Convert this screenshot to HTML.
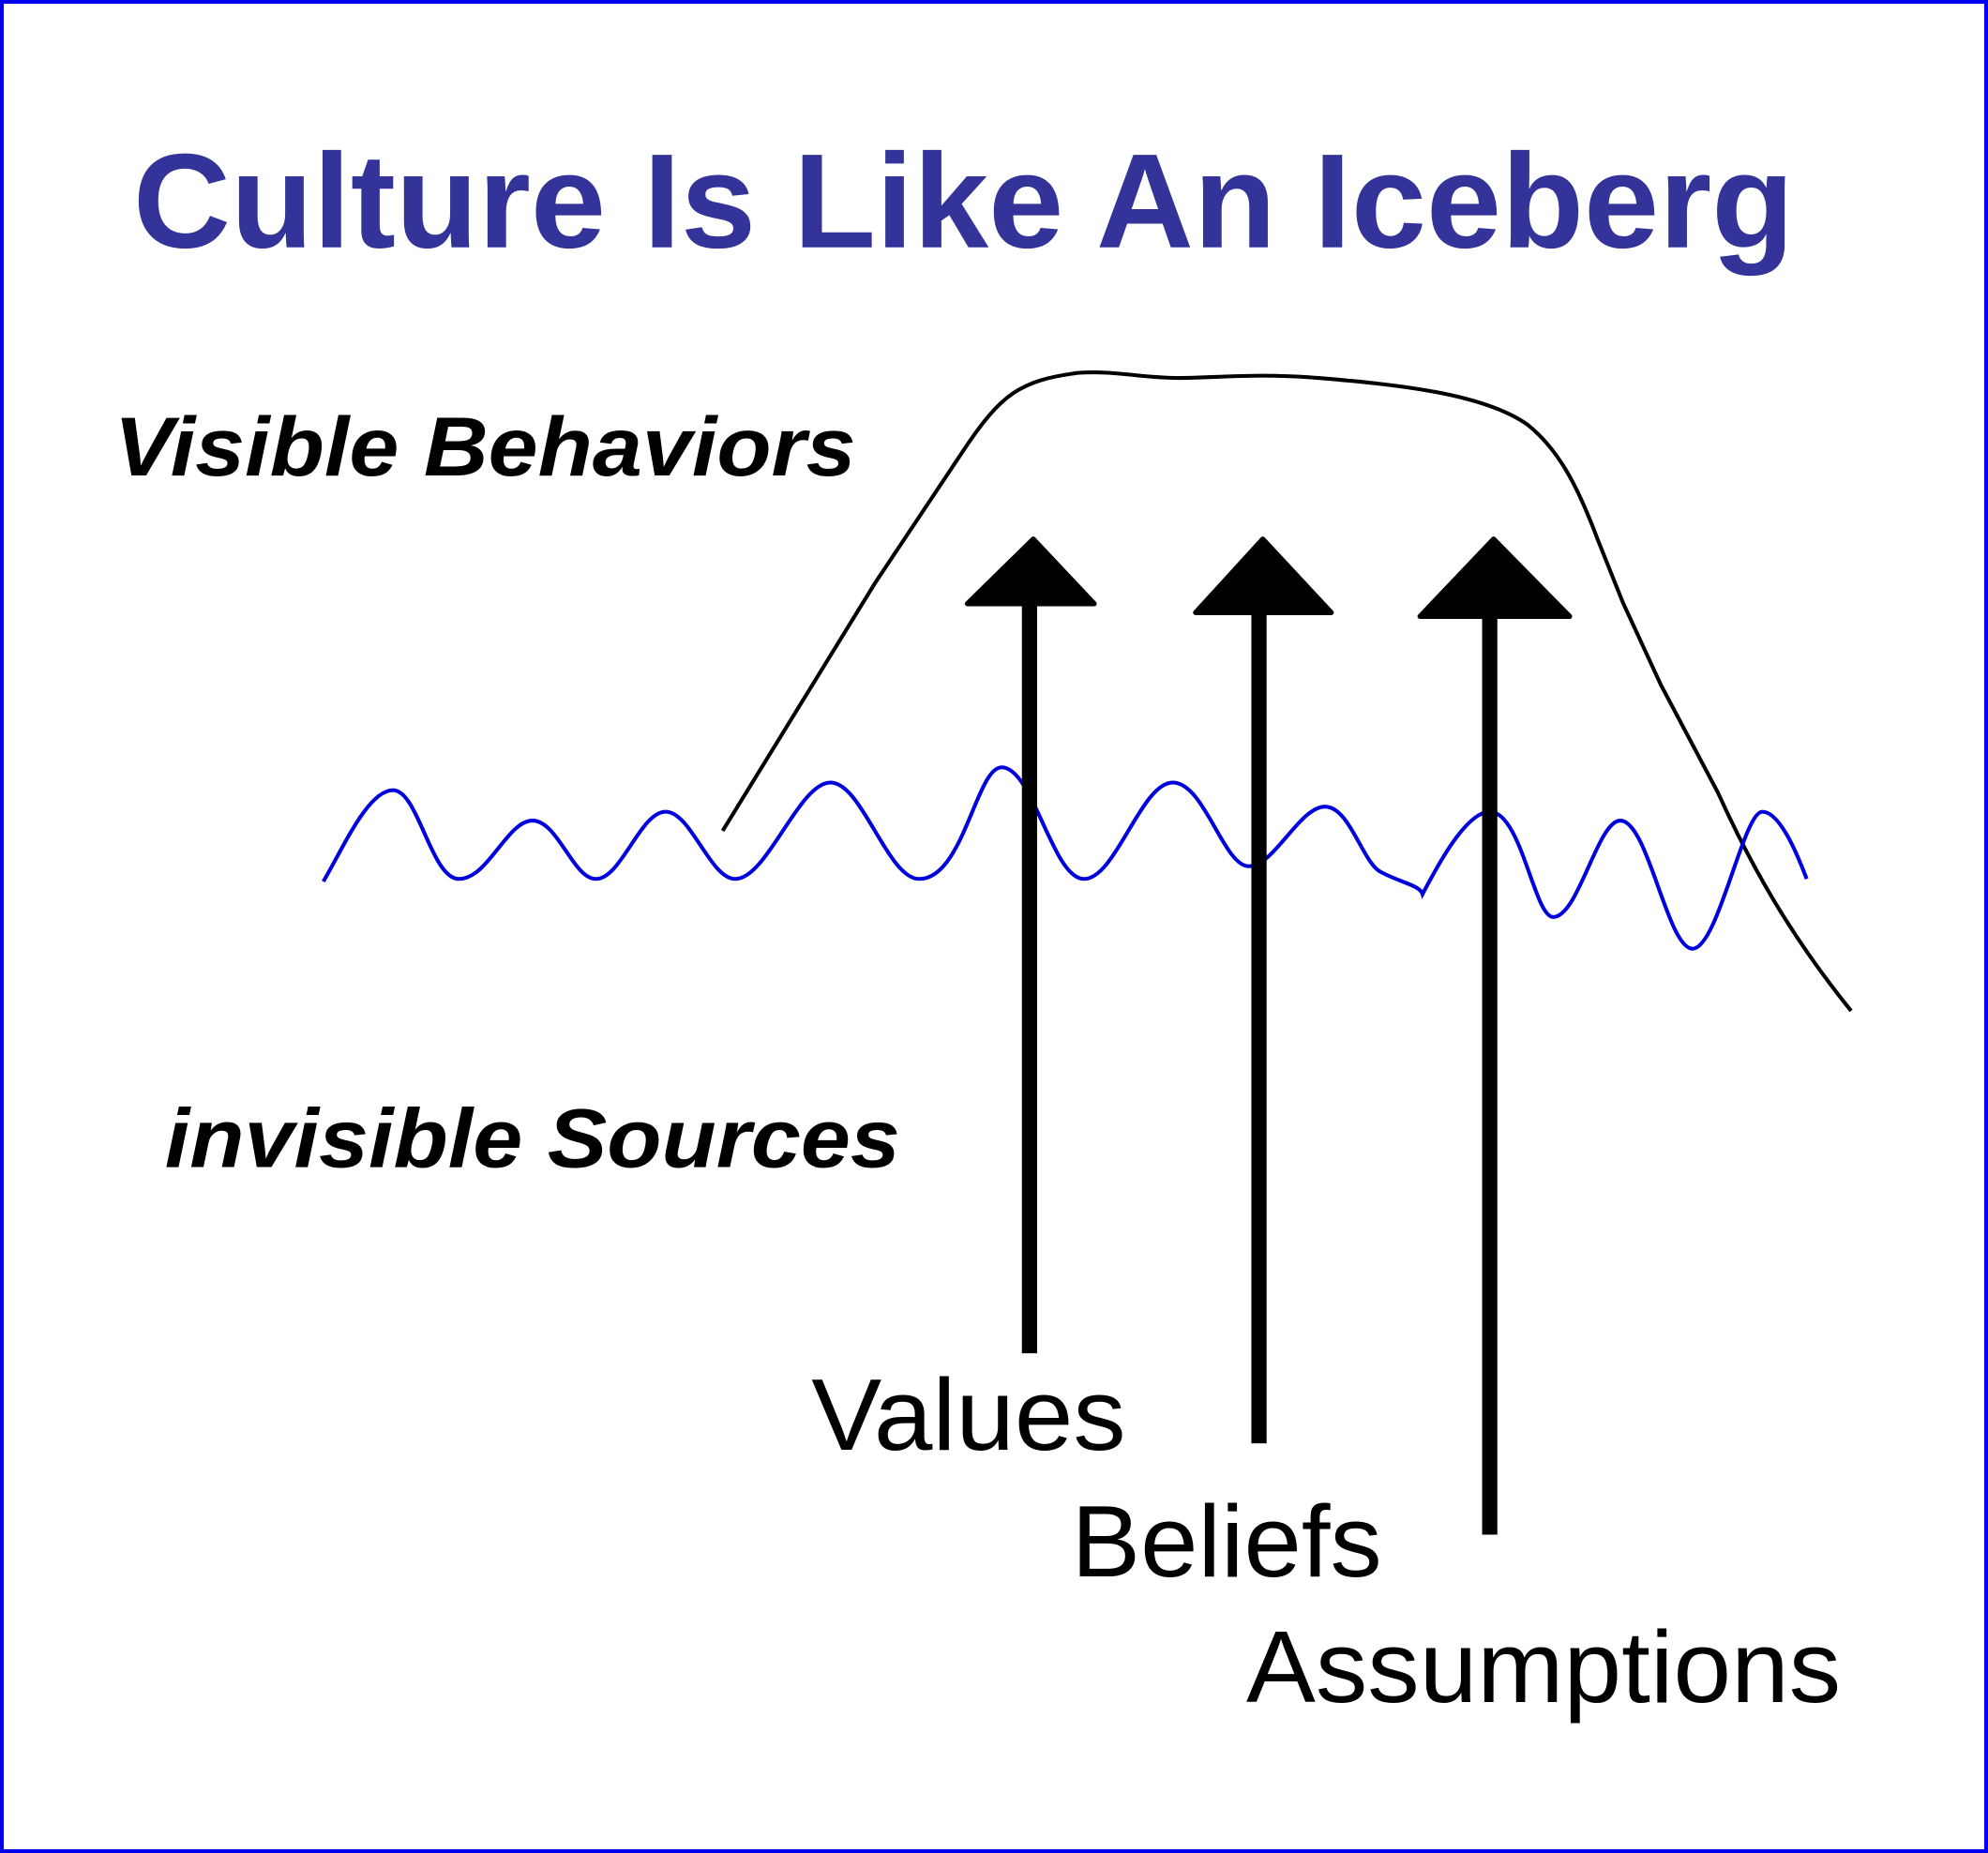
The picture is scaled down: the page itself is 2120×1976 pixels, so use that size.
<!DOCTYPE html>
<html><head><meta charset="utf-8"><style>
html,body{margin:0;padding:0;background:#fff;}
svg{display:block;}
</style></head><body>
<svg width="2120" height="1976" viewBox="0 0 1568 1461" preserveAspectRatio="none" xmlns="http://www.w3.org/2000/svg">
<rect x="1.5" y="1.5" width="1565" height="1458" fill="#fff" stroke="#0000ee" stroke-width="3"/>
<text x="105" y="195" font-family="Liberation Sans, sans-serif" font-weight="bold" font-size="106" fill="#333399" textLength="1310" lengthAdjust="spacingAndGlyphs">Culture Is Like An Iceberg</text>
<text x="90" y="375" font-family="Liberation Sans, sans-serif" font-weight="bold" font-style="italic" font-size="66" fill="#000" textLength="585" lengthAdjust="spacingAndGlyphs">Visible Behaviors</text>
<text x="130" y="920" font-family="Liberation Sans, sans-serif" font-weight="bold" font-style="italic" font-size="66" fill="#000" textLength="580" lengthAdjust="spacingAndGlyphs">invisible Sources</text>
<text x="640" y="1143" font-family="Liberation Sans, sans-serif" font-size="80" fill="#000" textLength="248" lengthAdjust="spacingAndGlyphs">Values</text>
<text x="845" y="1243" font-family="Liberation Sans, sans-serif" font-size="80" fill="#000" textLength="245" lengthAdjust="spacingAndGlyphs">Beliefs</text>
<text x="983" y="1342" font-family="Liberation Sans, sans-serif" font-size="80" fill="#000" textLength="469" lengthAdjust="spacingAndGlyphs">Assumptions</text>
<!-- iceberg -->
<path d="M570,655 L690,460 L760,355 C790,310 805,300 850,294 C880,292 900,298 930,298 C960,298 990,294 1040,298 C1100,303 1170,310 1205,335 C1230,355 1245,385 1260,425 L1280,475 L1310,540 L1355,625 C1380,680 1410,735 1460,797" fill="none" stroke="#000" stroke-width="3"/>
<!-- wave -->
<path d="M255,695 C270,670 290,623 310,623 C330,623 340,693 362,693 C385,693 400,647 420,647 C440,647 452,693 470,693 C490,693 505,640 525,640 C545,640 560,693 580,693 C605,693 630,617 655,617 C680,617 700,693 725,693 C760,693 770,605 790,605 C815,605 830,693 855,693 C880,693 900,617 925,617 C950,617 965,683 985,683 C1005,683 1025,636 1045,636 C1065,636 1075,682 1090,688 C1105,696 1120,698 1122,705 C1130,690 1155,640 1175,640 C1200,640 1210,723 1225,723 C1245,723 1260,647 1278,647 C1300,647 1315,748 1335,748 C1355,748 1375,640 1390,640 C1405,640 1420,680 1425,693" fill="none" stroke="#0000dd" stroke-width="3"/>
<!-- arrows -->
<g fill="#000" stroke="#000" stroke-linejoin="round">
<rect x="806" y="476" width="12" height="591" stroke="none"/>
<polygon points="815,425 763,476 863,476" stroke-width="4"/>
<rect x="987" y="483" width="12" height="655" stroke="none"/>
<polygon points="996,425 943,483 1050,483" stroke-width="4"/>
<rect x="1169" y="486" width="12" height="724" stroke="none"/>
<polygon points="1178,425 1120,486 1238,486" stroke-width="4"/>
</g>
</svg>
</body></html>
